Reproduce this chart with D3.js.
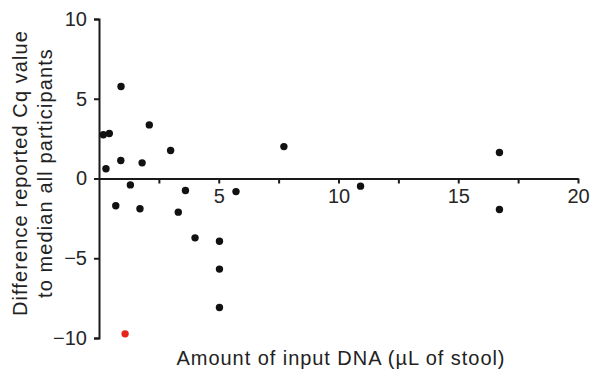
<!DOCTYPE html>
<html>
<head>
<meta charset="utf-8">
<script src="https://cdn.jsdelivr.net/npm/d3@7"></script>
<style>
  body { margin: 0; background: #fff; }
  text { font-family: "Liberation Sans", Arial, sans-serif; }
</style>
</head>
<body>
<script>
// amount of input DNA (µL of stool) vs difference in reported Cq
const inputDNA = [0.92, 0.18, 0.43, 2.10, 2.99, 0.29, 0.91, 1.80, 1.31, 3.61, 5.72, 0.70, 1.71, 3.31,
                  7.72, 4.01, 5.03, 5.03, 5.03, 10.92, 16.72, 16.72];
const cqDiff   = [5.77, 2.74, 2.82, 3.36, 1.76, 0.61, 1.13, 0.98, -0.40, -0.75, -0.82, -1.71, -1.90, -2.11,
                  2.00, -3.72, -3.93, -5.68, -8.09, -0.48, 1.63, -1.94];
// highlighted participant
const outlierDNA = [1.09];
const outlierCq = [-9.74];

const xTicks = [2.5, 5, 7.5, 10, 12.5, 15, 17.5, 20];
const yTicks = [-10, -5, 0, 5, 10];

const W = 590, H = 372;
const margin = {left: 99, top: 19, right: 12, bottom: 34};

const svg = d3.select("body").append("svg")
    .attr("width", W)
    .attr("height", H);

const x = d3.scaleLinear().domain([0, 20]).range([margin.left, W - margin.right]);
const y = d3.scaleLinear().domain([-10, 10]).range([H - margin.bottom, margin.top]);

const yAxis = svg.append("g")
    .attr("transform", "translate(" + x(0) + ",0)")
    .call(d3.axisLeft(y).tickValues(yTicks).tickSize(5).tickSizeOuter(5).tickPadding(7));

const xAxis = svg.append("g")
    .attr("transform", "translate(0," + y(0) + ")")
    .call(d3.axisBottom(x).tickValues(xTicks).tickSize(5).tickSizeOuter(0).tickPadding(5)
        .tickFormat(d => d % 5 === 0 ? d3.format("d")(d) : ""));

[xAxis, yAxis].forEach(g => {
  g.selectAll("path, line").attr("stroke", "#1a1a1a").attr("stroke-width", 2);
  g.selectAll("text").attr("fill", "#262626").attr("font-size", 20)
    .attr("font-family", "Liberation Sans, Arial, sans-serif");
});

// points
svg.append("g").selectAll("circle")
  .data(inputDNA.map((d, i) => [d, cqDiff[i]]))
  .join("circle")
    .attr("cx", d => x(d[0]))
    .attr("cy", d => y(d[1]))
    .attr("r", 3.7)
    .attr("fill", "#111");

svg.append("g").selectAll("circle")
  .data(outlierDNA.map((d, i) => [d, outlierCq[i]]))
  .join("circle")
    .attr("cx", d => x(d[0]))
    .attr("cy", d => y(d[1]))
    .attr("r", 3.7)
    .attr("fill", "#e8231c");

// axis titles
svg.append("text")
    .attr("x", 341)
    .attr("y", 365)
    .attr("text-anchor", "middle")
    .attr("font-size", 20)
    .attr("letter-spacing", 0.95)
    .attr("fill", "#222")
    .text("Amount of input DNA (µL of stool)");

const yTitle = svg.append("text")
    .attr("transform", "translate(0,173) rotate(-90)")
    .attr("text-anchor", "middle")
    .attr("font-size", 20)
    .attr("letter-spacing", 1.1)
    .attr("fill", "#222");
yTitle.append("tspan").attr("x", 0).attr("y", 27).text("Difference reported Cq value");
yTitle.append("tspan").attr("x", 0).attr("y", 52).text("to median all participants");
</script>
</body>
</html>
